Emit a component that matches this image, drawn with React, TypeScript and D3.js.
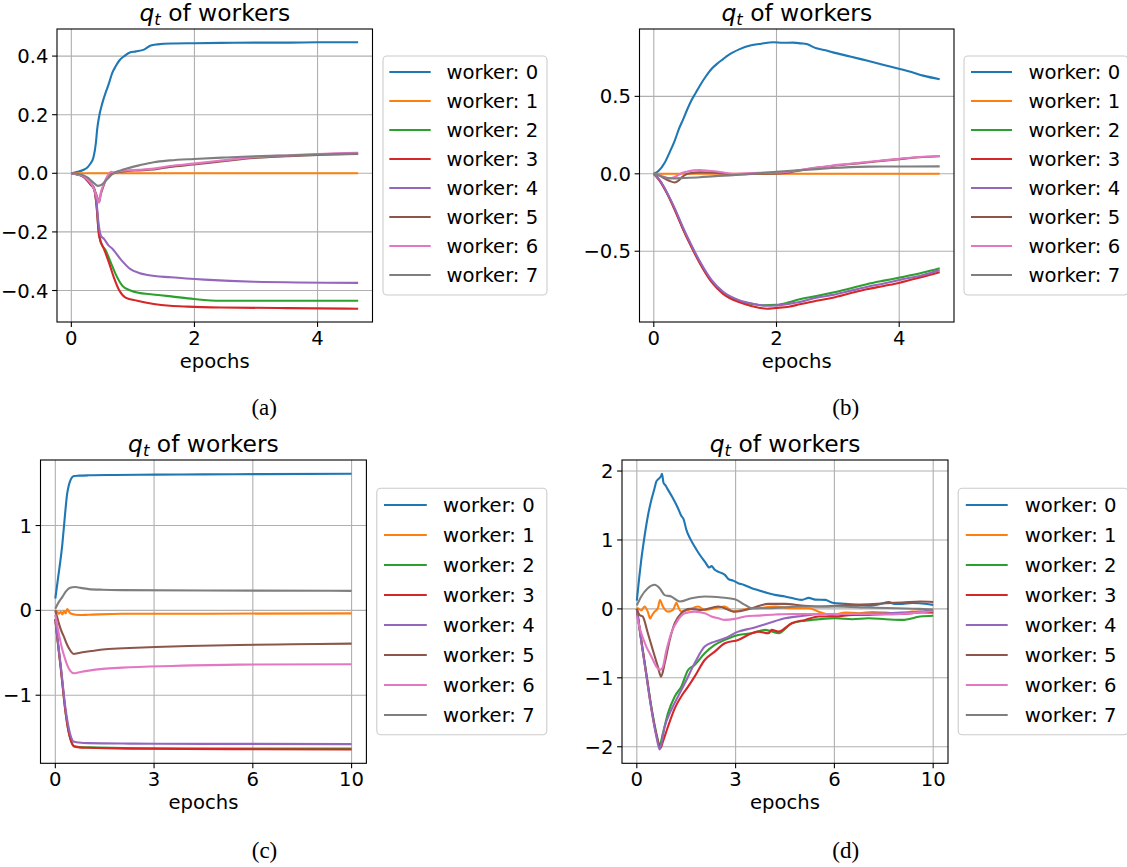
import * as d3 from "d3";

type Pt = [number, number];

const COLORS = ["#1f77b4", "#ff7f0e", "#2ca02c", "#d62728", "#9467bd", "#8c564b", "#e377c2", "#7f7f7f"];
const WORKERS = ["worker: 0", "worker: 1", "worker: 2", "worker: 3", "worker: 4", "worker: 5", "worker: 6", "worker: 7"];

// ---- panel (a) ----
const A_W0: Pt[] = [[0,0],[0.1,0.005],[0.2,0.012],[0.26,0.02],[0.3,0.03],[0.36,0.055],[0.4,0.106],[0.42,0.151],[0.46,0.203],[0.5,0.237],[0.56,0.277],[0.6,0.3],[0.67,0.345],[0.72,0.365],[0.78,0.385],[0.86,0.4],[0.96,0.413],[1.05,0.416],[1.18,0.422],[1.29,0.436],[1.4,0.44],[1.62,0.443],[2,0.444],[2.43,0.445],[3,0.446],[3.5,0.446],[4,0.447],[4.66,0.447]];
const A_W1: Pt[] = [[0,0],[4.66,0]];
const A_W2: Pt[] = [[0,0],[0.1,-0.004],[0.2,-0.012],[0.26,-0.025],[0.32,-0.04],[0.37,-0.054],[0.41,-0.11],[0.44,-0.19],[0.48,-0.236],[0.56,-0.264],[0.64,-0.304],[0.72,-0.344],[0.83,-0.384],[0.96,-0.4],[1.1,-0.408],[1.24,-0.412],[1.45,-0.416],[1.62,-0.42],[1.99,-0.429],[2.43,-0.435],[3,-0.435],[4,-0.435],[4.66,-0.435]];
const A_W3: Pt[] = [[0,0],[0.1,-0.004],[0.2,-0.012],[0.26,-0.025],[0.32,-0.04],[0.37,-0.054],[0.41,-0.11],[0.45,-0.213],[0.53,-0.258],[0.61,-0.304],[0.69,-0.355],[0.78,-0.4],[0.88,-0.424],[1.07,-0.435],[1.34,-0.446],[1.6,-0.452],[1.89,-0.455],[2.43,-0.458],[3.5,-0.46],[4.66,-0.462]];
const A_W4: Pt[] = [[0,0],[0.1,-0.004],[0.2,-0.012],[0.26,-0.022],[0.32,-0.035],[0.37,-0.05],[0.41,-0.1],[0.44,-0.167],[0.48,-0.213],[0.53,-0.224],[0.6,-0.245],[0.67,-0.258],[0.8,-0.293],[0.96,-0.327],[1.1,-0.34],[1.24,-0.347],[1.62,-0.355],[2.16,-0.363],[2.97,-0.37],[4.66,-0.374]];
const A_W5: Pt[] = [[0,0],[0.1,-0.004],[0.2,-0.01],[0.26,-0.02],[0.32,-0.035],[0.37,-0.054],[0.42,-0.08],[0.45,-0.099],[0.48,-0.07],[0.52,-0.045],[0.59,-0.012],[0.69,0],[0.8,0.005],[0.91,0.008],[1.1,0.01],[1.34,0.013],[1.6,0.022],[1.99,0.03],[2.5,0.042],[2.97,0.052],[3.5,0.058],[4,0.063],[4.66,0.066]];
const A_W6: Pt[] = [[0,0],[0.1,-0.004],[0.2,-0.01],[0.26,-0.02],[0.32,-0.035],[0.37,-0.055],[0.42,-0.085],[0.45,-0.1],[0.48,-0.065],[0.52,-0.04],[0.59,-0.008],[0.65,0.005],[0.69,0.003],[0.8,0.008],[0.91,0.01],[1.1,0.012],[1.34,0.016],[1.6,0.025],[1.99,0.033],[2.5,0.045],[2.97,0.055],[3.5,0.061],[4,0.066],[4.66,0.07]];
const A_W7: Pt[] = [[0,0],[0.1,-0.002],[0.2,-0.007],[0.26,-0.014],[0.35,-0.03],[0.43,-0.043],[0.5,-0.038],[0.56,-0.025],[0.63,-0.01],[0.69,0.001],[0.8,0.01],[0.91,0.017],[1.1,0.027],[1.34,0.038],[1.6,0.044],[1.99,0.049],[2.5,0.054],[2.97,0.058],[3.5,0.061],[4,0.064],[4.66,0.067]];

// ---- panel (b) ----
const B_W0: Pt[] = [[0,0],[0.08,0.02],[0.18,0.073],[0.26,0.14],[0.34,0.213],[0.41,0.29],[0.48,0.353],[0.55,0.42],[0.61,0.472],[0.68,0.52],[0.75,0.569],[0.85,0.63],[0.94,0.677],[1.03,0.71],[1.13,0.741],[1.21,0.765],[1.29,0.784],[1.4,0.805],[1.57,0.828],[1.75,0.84],[1.95,0.849],[2.1,0.846],[2.27,0.847],[2.4,0.842],[2.49,0.838],[2.65,0.81],[2.8,0.798],[2.92,0.784],[3.2,0.758],[3.47,0.731],[3.75,0.703],[4.01,0.677],[4.2,0.657],[4.39,0.634],[4.66,0.611]];
const B_W1: Pt[] = [[0,0],[4.66,0]];
const B_W2: Pt[] = [[0,0],[0.1,-0.045],[0.21,-0.12],[0.34,-0.228],[0.48,-0.358],[0.61,-0.466],[0.75,-0.573],[0.94,-0.692],[1.13,-0.767],[1.4,-0.821],[1.6,-0.84],[1.78,-0.849],[2,-0.846],[2.2,-0.83],[2.38,-0.81],[2.65,-0.79],[2.92,-0.767],[3.2,-0.74],[3.47,-0.713],[3.75,-0.69],[4.01,-0.67],[4.39,-0.638],[4.66,-0.61]];
const B_W3: Pt[] = [[0,0],[0.1,-0.047],[0.21,-0.123],[0.34,-0.232],[0.48,-0.362],[0.61,-0.47],[0.75,-0.577],[0.94,-0.698],[1.13,-0.775],[1.4,-0.83],[1.6,-0.855],[1.84,-0.871],[2,-0.866],[2.2,-0.858],[2.38,-0.843],[2.65,-0.82],[2.92,-0.8],[3.2,-0.772],[3.47,-0.746],[3.75,-0.724],[4.01,-0.703],[4.39,-0.664],[4.66,-0.636]];
const B_W4: Pt[] = [[0,0],[0.1,-0.043],[0.21,-0.117],[0.34,-0.222],[0.48,-0.35],[0.61,-0.458],[0.75,-0.565],[0.94,-0.685],[1.13,-0.762],[1.4,-0.818],[1.6,-0.838],[1.84,-0.852],[2,-0.85],[2.2,-0.84],[2.38,-0.828],[2.65,-0.8],[2.92,-0.782],[3.2,-0.756],[3.47,-0.731],[3.75,-0.708],[4.01,-0.685],[4.39,-0.653],[4.66,-0.622]];
const B_W5: Pt[] = [[0,0],[0.08,-0.01],[0.15,-0.024],[0.25,-0.045],[0.34,-0.056],[0.4,-0.045],[0.45,-0.024],[0.52,-0.005],[0.59,0.004],[0.75,0.009],[0.9,0.008],[1.08,0.004],[1.29,-0.004],[1.5,-0.002],[1.73,0],[2.11,0.004],[2.38,0.022],[2.65,0.038],[2.92,0.052],[3.2,0.063],[3.47,0.073],[3.75,0.085],[4.01,0.095],[4.39,0.108],[4.66,0.113]];
const B_W6: Pt[] = [[0,0],[0.08,-0.008],[0.15,-0.018],[0.25,-0.03],[0.32,-0.024],[0.4,-0.008],[0.45,0.004],[0.55,0.015],[0.65,0.022],[0.75,0.025],[0.9,0.02],[1.08,0.012],[1.29,0],[1.5,0.003],[1.73,0.006],[2.11,0.01],[2.38,0.024],[2.65,0.04],[2.92,0.054],[3.2,0.065],[3.47,0.076],[3.75,0.087],[4.01,0.097],[4.39,0.11],[4.66,0.115]];
const B_W7: Pt[] = [[0,0],[0.1,-0.013],[0.2,-0.025],[0.32,-0.03],[0.5,-0.027],[0.75,-0.022],[1,-0.015],[1.29,-0.009],[1.6,0],[2,0.013],[2.3,0.021],[2.65,0.03],[2.9,0.037],[3.2,0.043],[3.5,0.046],[3.74,0.047],[4.2,0.047],[4.66,0.048]];

// ---- panel (c) ----
const C_W0: Pt[] = [[0,0.14],[0.1,0.4],[0.24,0.79],[0.32,1.1],[0.4,1.376],[0.46,1.48],[0.52,1.541],[0.63,1.584],[0.8,1.588],[1.13,1.592],[2,1.596],[3.38,1.6],[5,1.603],[7,1.606],[10,1.61]];
const C_W1: Pt[] = [[0,0],[0.07,-0.016],[0.12,-0.04],[0.18,-0.016],[0.24,-0.047],[0.29,-0.008],[0.35,-0.035],[0.4,0.016],[0.48,-0.024],[0.57,-0.043],[0.8,-0.055],[1.13,-0.051],[2.26,-0.039],[5.06,-0.039],[10,-0.035]];
const C_W2: Pt[] = [[0,-0.1],[0.06,-0.3],[0.18,-0.663],[0.35,-1.21],[0.45,-1.43],[0.52,-1.525],[0.63,-1.6],[0.8,-1.61],[1.13,-1.615],[2.82,-1.625],[6,-1.628],[10,-1.63]];
const C_W3: Pt[] = [[0,-0.1],[0.06,-0.3],[0.18,-0.668],[0.35,-1.215],[0.45,-1.435],[0.52,-1.53],[0.63,-1.605],[0.8,-1.615],[1.13,-1.62],[2.82,-1.63],[6,-1.636],[10,-1.64]];
const C_W4: Pt[] = [[0,-0.1],[0.06,-0.29],[0.18,-0.64],[0.35,-1.17],[0.45,-1.38],[0.52,-1.48],[0.63,-1.549],[0.8,-1.558],[1.13,-1.565],[2.5,-1.57],[5,-1.573],[10,-1.576]];
const C_W5: Pt[] = [[0,0],[0.12,-0.153],[0.2,-0.24],[0.29,-0.31],[0.38,-0.39],[0.46,-0.447],[0.55,-0.495],[0.63,-0.514],[0.75,-0.505],[0.91,-0.494],[1.3,-0.475],[1.69,-0.459],[2.5,-0.443],[3.38,-0.431],[4.5,-0.42],[6.18,-0.408],[8,-0.4],[10,-0.392]];
const C_W6: Pt[] = [[0,-0.05],[0.07,-0.19],[0.15,-0.33],[0.24,-0.467],[0.32,-0.56],[0.4,-0.643],[0.5,-0.71],[0.63,-0.741],[0.8,-0.73],[1.13,-0.71],[1.6,-0.69],[2.26,-0.675],[3.94,-0.655],[6.18,-0.639],[10,-0.635]];
const C_W7: Pt[] = [[0,0.02],[0.12,0.1],[0.24,0.16],[0.35,0.22],[0.46,0.259],[0.57,0.272],[0.68,0.275],[0.85,0.265],[1.13,0.251],[1.6,0.243],[2.26,0.239],[5.06,0.235],[10,0.23]];

// ---- panel (d) ----
const D_W0: Pt[] = [[0,0.12],[0.08,0.45],[0.15,0.71],[0.26,1.05],[0.37,1.34],[0.49,1.58],[0.58,1.72],[0.66,1.85],[0.72,1.88],[0.77,1.9],[0.82,1.93],[0.85,1.96],[0.9,1.83],[0.97,1.79],[1.05,1.73],[1.2,1.62],[1.39,1.46],[1.5,1.35],[1.58,1.3],[1.67,1.15],[1.8,1.02],[1.95,0.905],[2.1,0.8],[2.29,0.688],[2.45,0.6],[2.52,0.62],[2.63,0.567],[2.8,0.53],[2.97,0.494],[3.1,0.43],[3.25,0.41],[3.42,0.373],[3.6,0.35],[3.88,0.3],[4.1,0.27],[4.44,0.228],[4.7,0.2],[5,0.179],[5.3,0.15],[5.57,0.131],[5.8,0.16],[6.02,0.135],[6.36,0.131],[6.6,0.09],[7.04,0.073],[7.4,0.06],[7.83,0.048],[8.2,0.07],[8.5,0.1],[8.7,0.07],[8.96,0.073],[9.3,0.085],[9.53,0.082],[10,0.058]];
const D_W1: Pt[] = [[0,0],[0.03,0.01],[0.15,-0.024],[0.26,0.034],[0.37,-0.04],[0.45,-0.14],[0.49,-0.11],[0.6,-0.04],[0.71,0.01],[0.78,0.13],[0.88,0.034],[1.05,-0.04],[1.22,-0.015],[1.34,0.09],[1.37,0.058],[1.5,-0.04],[1.73,-0.015],[2.07,0.034],[2.29,-0.015],[2.63,0.01],[2.97,0.034],[3.25,-0.04],[3.65,-0.005],[4.1,0.01],[4.67,0.034],[5.23,0.01],[5.8,0.01],[6.14,-0.04],[6.59,-0.087],[7.04,-0.053],[7.49,-0.063],[7.94,-0.044],[8.4,-0.053],[8.96,-0.073],[9.3,-0.04],[10,-0.05]];
const D_W2: Pt[] = [[0,0],[0.15,-0.45],[0.32,-0.935],[0.49,-1.42],[0.66,-1.806],[0.77,-1.976],[0.88,-1.806],[1.05,-1.516],[1.28,-1.27],[1.5,-1.128],[1.73,-0.886],[1.95,-0.814],[2.29,-0.644],[2.63,-0.523],[2.97,-0.45],[3.42,-0.378],[3.88,-0.354],[4.33,-0.305],[4.78,-0.354],[5.23,-0.208],[5.68,-0.17],[6.14,-0.15],[6.7,-0.136],[7.27,-0.15],[7.83,-0.136],[8.4,-0.15],[8.96,-0.16],[9.56,-0.111],[10,-0.1]];
const D_W3: Pt[] = [[0,0],[0.15,-0.46],[0.32,-0.95],[0.49,-1.44],[0.66,-1.83],[0.8,-2.02],[0.88,-1.927],[1.05,-1.71],[1.28,-1.443],[1.5,-1.27],[1.73,-1.128],[1.95,-0.983],[2.29,-0.741],[2.63,-0.62],[2.97,-0.499],[3.42,-0.45],[3.88,-0.354],[4.1,-0.33],[4.44,-0.354],[4.55,-0.305],[4.78,-0.33],[5.23,-0.208],[5.68,-0.16],[6.14,-0.111],[6.7,-0.111],[7.27,-0.087],[7.83,-0.087],[8.4,-0.073],[8.96,-0.073],[9.56,-0.053],[10,-0.05]];
const D_W4: Pt[] = [[0,0],[0.15,-0.47],[0.32,-0.96],[0.49,-1.45],[0.66,-1.85],[0.77,-2.04],[0.94,-1.71],[1.16,-1.467],[1.39,-1.27],[1.62,-1.08],[1.95,-0.79],[2.29,-0.547],[2.63,-0.475],[2.97,-0.426],[3.42,-0.33],[3.88,-0.28],[4.44,-0.208],[5,-0.136],[5.57,-0.102],[6.14,-0.077],[7.27,-0.073],[8.4,-0.063],[9.56,-0.04],[10,-0.02]];
const D_W5: Pt[] = [[0,0],[0.09,-0.087],[0.2,-0.11],[0.37,-0.35],[0.54,-0.596],[0.71,-0.838],[0.82,-0.983],[0.94,-0.79],[1.11,-0.45],[1.28,-0.208],[1.5,-0.063],[1.79,0],[2.18,-0.015],[2.75,0.034],[3.31,-0.04],[3.88,0.01],[4.44,0.073],[5,0.073],[5.57,0.048],[6.14,0.034],[6.7,0.044],[7.27,0.058],[7.83,0.068],[8.4,0.082],[8.96,0.092],[9.56,0.107],[10,0.1]];
const D_W6: Pt[] = [[0,-0.11],[0.15,-0.35],[0.32,-0.547],[0.49,-0.69],[0.66,-0.838],[0.77,-0.886],[0.86,-0.86],[1,-0.596],[1.16,-0.353],[1.39,-0.16],[1.62,-0.063],[1.95,-0.04],[2.29,-0.063],[2.52,-0.11],[2.75,-0.136],[2.97,-0.16],[3.31,-0.145],[3.65,-0.11],[4.1,-0.097],[4.67,-0.082],[5.23,-0.073],[6.14,-0.073],[7.27,-0.073],[8.4,-0.082],[9.53,-0.053],[10,-0.03]];
const D_W7: Pt[] = [[0,0.05],[0.15,0.18],[0.37,0.3],[0.6,0.35],[0.77,0.3],[0.94,0.2],[1.16,0.18],[1.45,0.107],[1.84,0.155],[2.29,0.18],[2.86,0.165],[3.31,0.14],[3.65,0.058],[3.88,0.01],[4.44,0.01],[5.57,0.034],[6.7,0.034],[7.83,0.02],[9.53,0],[10,-0.01]];

// tick values / labels
const X_TICKS_AB = [0, 2, 4];
const X_LABELS_AB = ["0", "2", "4"];
const X_TICKS_CD = [0, 10 / 3, 20 / 3, 10];
const X_LABELS_CD = ["0", "3", "6", "10"];
const Y_TICKS_A = [-0.4, -0.2, 0, 0.2, 0.4];
const Y_TICKS_B = [-0.5, 0, 0.5];
const Y_TICKS_C = [-1, 0, 1];
const Y_TICKS_D = [-2, -1, 0, 1, 2];

const FONT = "DejaVu Sans, sans-serif";
const FS = 19.6;

interface LegendBox {
  x: number; y: number; w: number; h: number;
  row0: number; step: number; lx0: number; lx1: number; tx: number;
}

interface PanelProps {
  series: Pt[][];
  frame: { x0: number; x1: number; y0: number; y1: number };
  xTicks: number[];
  xLabels: string[];
  yTicks: number[];
  yFormat: (v: number) => string;
  legend: LegendBox;
  caption: { text: string; x: number; y: number };
}

// matplotlib-style 5% axis margins
const pad5 = (lo: number, hi: number): [number, number] => {
  const m = (hi - lo) * 0.05;
  return [lo - m, hi + m];
};

const Panel = ({ series, frame, xTicks, xLabels, yTicks, yFormat, legend, caption }: PanelProps) => {
  const all = series.flat();
  const [xmin, xmax] = d3.extent(all, (d) => d[0]) as [number, number];
  const [ymin, ymax] = d3.extent(all, (d) => d[1]) as [number, number];
  const x = d3.scaleLinear().domain(pad5(xmin, xmax)).range([frame.x0, frame.x1]);
  const y = d3.scaleLinear().domain(pad5(ymin, ymax)).range([frame.y1, frame.y0]);
  const line = d3
    .line<Pt>()
    .x((d) => x(d[0]))
    .y((d) => y(d[1]))
    .curve(d3.curveMonotoneX);
  const cx = (frame.x0 + frame.x1) / 2;
  const tick = 4.9;

  return (
    <g fontFamily={FONT}>
      {/* grid */}
      {xTicks.map((t, i) => (
        <line key={"gx" + i} x1={x(t)} x2={x(t)} y1={frame.y0} y2={frame.y1} stroke="#b0b0b0" strokeWidth={1.1} />
      ))}
      {yTicks.map((t, i) => (
        <line key={"gy" + i} x1={frame.x0} x2={frame.x1} y1={y(t)} y2={y(t)} stroke="#b0b0b0" strokeWidth={1.1} />
      ))}
      {/* series */}
      {series.map((s, i) => (
        <path key={"s" + i} d={line(s) || ""} fill="none" stroke={COLORS[i]} strokeWidth={2.1} strokeLinejoin="round" />
      ))}
      {/* frame */}
      <rect x={frame.x0} y={frame.y0} width={frame.x1 - frame.x0} height={frame.y1 - frame.y0} fill="none" stroke="#000" strokeWidth={1.1} />
      {/* x ticks */}
      {xTicks.map((t, i) => (
        <g key={"xt" + i}>
          <line x1={x(t)} x2={x(t)} y1={frame.y1} y2={frame.y1 + tick} stroke="#000" strokeWidth={1.1} />
          <text x={x(t)} y={frame.y1 + 23} textAnchor="middle" fontSize={FS}>{xLabels[i]}</text>
        </g>
      ))}
      {/* y ticks */}
      {yTicks.map((t, i) => (
        <g key={"yt" + i}>
          <line x1={frame.x0 - tick} x2={frame.x0} y1={y(t)} y2={y(t)} stroke="#000" strokeWidth={1.1} />
          <text x={frame.x0 - 8.5} y={y(t) + 7.1} textAnchor="end" fontSize={FS}>{yFormat(t)}</text>
        </g>
      ))}
      {/* title */}
      <text x={cx} y={frame.y0 - 8} textAnchor="middle" fontSize={23.4}>
        <tspan fontStyle="italic">q</tspan>
        <tspan fontStyle="italic" fontSize={16.4} dy={4}>t</tspan>
        <tspan dy={-4}> of workers</tspan>
      </text>
      <text x={cx} y={frame.y1 + 45.5} textAnchor="middle" fontSize={FS}>epochs</text>
      {/* legend */}
      <rect x={legend.x} y={legend.y} width={legend.w} height={legend.h} rx={4} ry={4} fill="#fff" fillOpacity={0.8} stroke="#cccccc" strokeWidth={1.1} />
      {WORKERS.map((name, i) => {
        const ry = legend.row0 + legend.step * i;
        return (
          <g key={"lg" + i}>
            <line x1={legend.lx0} x2={legend.lx1} y1={ry} y2={ry} stroke={COLORS[i]} strokeWidth={2.1} />
            <text x={legend.tx} y={ry + 7.1} fontSize={FS}>{name}</text>
          </g>
        );
      })}
      <text x={caption.x} y={caption.y} textAnchor="middle" fontFamily="Liberation Serif, serif" fontSize={23}>{caption.text}</text>
    </g>
  );
};

const fmt1 = d3.format(".1f");
const fmt0 = d3.format("d");

export default function App() {
  return (
    <svg width={1127} height={867} style={{ position: "absolute", left: 0, top: 0, background: "#fff" }}>
      <Panel
        series={[A_W0, A_W1, A_W2, A_W3, A_W4, A_W5, A_W6, A_W7]}
        frame={{ x0: 57, x1: 372.5, y0: 29, y1: 322 }}
        xTicks={X_TICKS_AB}
        xLabels={X_LABELS_AB}
        yTicks={Y_TICKS_A}
        yFormat={fmt1}
        legend={{ x: 383, y: 56, w: 164, h: 239, row0: 72, step: 29, lx0: 389.3, lx1: 430.7, tx: 446.4 }}
        caption={{ text: "(a)", x: 264.2, y: 415 }}
      />
      <Panel
        series={[B_W0, B_W1, B_W2, B_W3, B_W4, B_W5, B_W6, B_W7]}
        frame={{ x0: 639.5, x1: 954, y0: 29, y1: 322 }}
        xTicks={X_TICKS_AB}
        xLabels={X_LABELS_AB}
        yTicks={Y_TICKS_B}
        yFormat={fmt1}
        legend={{ x: 964, y: 56, w: 164, h: 239, row0: 72, step: 29, lx0: 971, lx1: 1012, tx: 1028.4 }}
        caption={{ text: "(b)", x: 845.7, y: 415 }}
      />
      <Panel
        series={[C_W0, C_W1, C_W2, C_W3, C_W4, C_W5, C_W6, C_W7]}
        frame={{ x0: 40.5, x1: 366.4, y0: 460, y1: 763.3 }}
        xTicks={X_TICKS_CD}
        xLabels={X_LABELS_CD}
        yTicks={Y_TICKS_C}
        yFormat={fmt0}
        legend={{ x: 376.8, y: 488.3, w: 170, h: 246.4, row0: 505, step: 30, lx0: 384, lx1: 426.8, tx: 442.9 }}
        caption={{ text: "(c)", x: 264.5, y: 857.5 }}
      />
      <Panel
        series={[D_W0, D_W1, D_W2, D_W3, D_W4, D_W5, D_W6, D_W7]}
        frame={{ x0: 622, x1: 948, y0: 460, y1: 763.3 }}
        xTicks={X_TICKS_CD}
        xLabels={X_LABELS_CD}
        yTicks={Y_TICKS_D}
        yFormat={fmt0}
        legend={{ x: 958.2, y: 488.3, w: 170, h: 246.4, row0: 505, step: 30, lx0: 965.8, lx1: 1007.7, tx: 1024.7 }}
        caption={{ text: "(d)", x: 845.7, y: 857.5 }}
      />
    </svg>
  );
}
